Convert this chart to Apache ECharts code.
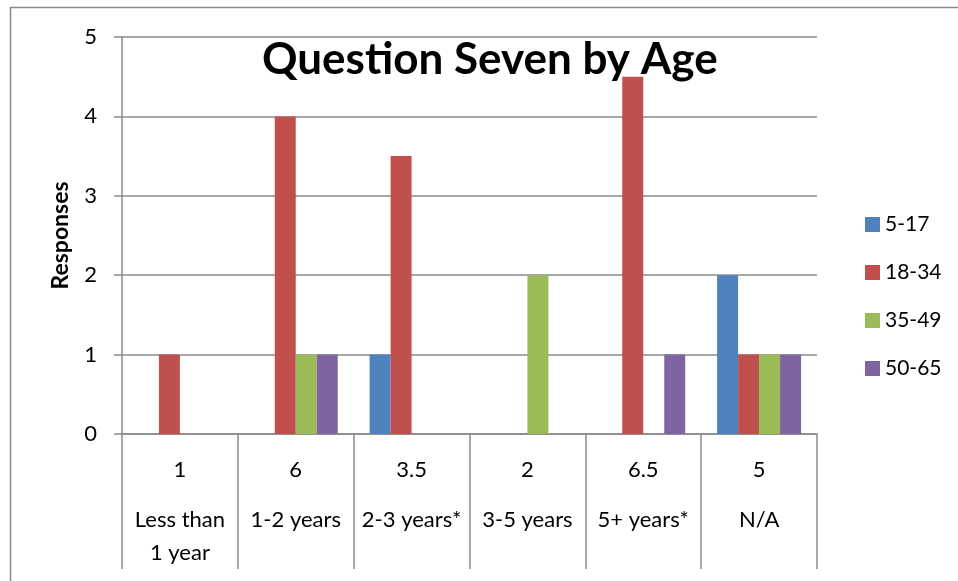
<!DOCTYPE html>
<html>
<head>
<meta charset="utf-8">
<script src="https://cdn.jsdelivr.net/npm/echarts@6/dist/echarts.min.js"></script>
<style>
  html, body { margin: 0; padding: 0; background: #fff; }
  #chart { width: 958px; height: 581px; }
</style>
</head>
<body>
<div id="chart"></div>
<script>
// Survey answers to question seven, split by respondent age band
const categories = ['Less than\n1 year', '1-2 years', '2-3 years*', '3-5 years', '5+ years*', 'N/A'];
const categoryValues = ['1', '6', '3.5', '2', '6.5', '5'];
const ageGroups = ['5-17', '18-34', '35-49', '50-65'];
const age5to17 = [0, 0, 1, 0, 0, 2];
const age18to34 = [1, 4, 3.5, 0, 4.5, 1];
const age35to49 = [0, 1, 0, 2, 0, 1];
const age50to65 = [0, 1, 0, 0, 1, 1];
const yTicks = [0, 1, 2, 3, 4, 5];

const colors = ['#4F81BD', '#C0504D', '#9BBB59', '#8064A2'];
const gridGray = '#8a8a8a';
const font = 'Lato, "Open Sans", sans-serif';

const seriesData = [age5to17, age18to34, age35to49, age50to65];

const chart = echarts.init(document.getElementById('chart'));
chart.setOption({
  animation: false,
  color: colors,
  textStyle: { fontFamily: font, color: '#000' },
  title: {
    text: 'Question Seven by Age',
    left: 257,
    top: 33,
    textStyle: { fontFamily: font, fontSize: 44, fontWeight: 'bold', color: '#000' }
  },
  graphic: [{
    type: 'rect',
    silent: true,
    z: -1,
    shape: { x: 10.5, y: 7.5, width: 1200, height: 1200 },
    style: { fill: null, stroke: gridGray, lineWidth: 1.5 }
  }],
  legend: {
    orient: 'vertical',
    left: 860,
    top: 209,
    itemWidth: 15,
    itemHeight: 15,
    itemGap: 27,
    icon: 'rect',
    data: ageGroups,
    textStyle: { fontFamily: font, fontSize: 21, lineHeight: 21, color: '#000' }
  },
  grid: { left: 122, right: 141, top: 37, bottom: 147, containLabel: false },
  xAxis: [{
    type: 'category',
    data: categoryValues,
    position: 'bottom',
    axisLine: { show: true, lineStyle: { color: gridGray, width: 1.5 } },
    axisTick: { show: true, interval: 0, length: 135, lineStyle: { color: gridGray, width: 1.5 } },
    axisLabel: { interval: 0, margin: 23, fontFamily: font, fontSize: 22, lineHeight: 26, color: '#000' }
  }, {
    type: 'category',
    data: categories,
    position: 'bottom',
    axisLine: { show: false },
    axisTick: { show: false },
    axisLabel: { interval: 0, margin: 69, fontFamily: font, fontSize: 22, lineHeight: 33, color: '#000', verticalAlign: 'top' }
  }],
  yAxis: {
    type: 'value',
    min: yTicks[0],
    max: yTicks[yTicks.length - 1],
    interval: 1,
    name: 'Responses',
    nameLocation: 'middle',
    nameGap: 50,
    nameTextStyle: { fontFamily: font, fontSize: 23, fontWeight: 'bold', color: '#000' },
    axisLine: { show: true, lineStyle: { color: gridGray, width: 1.5 } },
    axisTick: { show: true, length: 8, lineStyle: { color: gridGray, width: 1.5 } },
    axisLabel: { margin: 25, fontFamily: font, fontSize: 22, color: '#000' },
    splitLine: { show: true, lineStyle: { color: gridGray, width: 1.5 } }
  },
  series: ageGroups.map((name, i) => ({
    name,
    type: 'bar',
    xAxisIndex: 0,
    data: seriesData[i],
    barGap: '0%',
    barCategoryGap: '27.5%',
    itemStyle: { color: colors[i] }
  }))
});
</script>
</body>
</html>
